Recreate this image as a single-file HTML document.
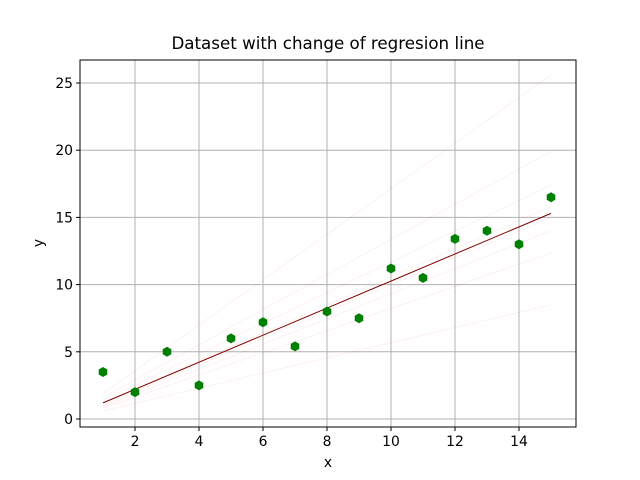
<!DOCTYPE html>
<html><head><meta charset="utf-8"><style>body{margin:0;background:#fff}svg{display:block}text{font-family:"DejaVu Sans","Liberation Sans",sans-serif;fill:#000}</style></head>
<body>
<svg id="c" width="640" height="480"></svg>
<script>
const xs=[1,2,3,4,5,6,7,8,9,10,11,12,13,14,15];
const ys=[3.5,2,5,2.5,6,7.2,5.4,8,7.5,11.2,10.5,13.4,14,13,16.5];
const fitStarts=[1.9,1.6,1.4,1.2,1.0,0.9,0.8,0.6];
const fitEnds=[25.6,19.9,17.4,15.8,15.0,14.0,12.35,8.5];
const finalLine=[1.2,15.3];
const xTicks=[2,4,6,8,10,12,14];
const yTicks=[0,5,10,15,20,25];
const L=80,R=576,T=60,B=427;
const X=v=>103+(v-1)*32, Y=v=>419-v*13.44;
const s=document.getElementById('c');const ns='http://www.w3.org/2000/svg';
function el(t,a,txt){const e=document.createElementNS(ns,t);for(const k in a)e.setAttribute(k,a[k]);if(txt!=null)e.textContent=txt;s.appendChild(e);return e;}
xTicks.forEach(v=>{let g=el('line',{x1:X(v),x2:X(v),y1:T,y2:B,stroke:'#b0b0b0','stroke-width':1});
let t=el('line',{x1:X(v),x2:X(v),y1:B,y2:B+4,stroke:'#000'});
let l=el('text',{x:X(v),y:B+19,'text-anchor':'middle','font-size':13.9},v);});
yTicks.forEach(v=>{let g=el('line',{x1:L,x2:R,y1:Y(v),y2:Y(v),stroke:'#b0b0b0','stroke-width':1});
let t=el('line',{x1:L-4,x2:L,y1:Y(v),y2:Y(v),stroke:'#000'});
let l=el('text',{x:L-7,y:Y(v)+5,'text-anchor':'end','font-size':13.9},v);});
fitStarts.forEach((a,i)=>{let f=el('line',{x1:X(1),y1:Y(a),x2:X(15),y2:Y(fitEnds[i]),stroke:'#ff0000','stroke-opacity':0.06,'stroke-width':1});});
let m=el('line',{x1:X(1),y1:Y(finalLine[0]),x2:X(15),y2:Y(finalLine[1]),stroke:'#800000','stroke-width':1});
xs.forEach((x,i)=>{const cx=X(x),cy=Y(ys[i]),r=5;let p=[];for(let k=0;k<6;k++){const a=Math.PI/2+k*Math.PI/3;p.push((cx+r*Math.cos(a)).toFixed(1)+','+(cy+r*Math.sin(a)).toFixed(1));}
let h=el('polygon',{points:p.join(' '),fill:'#008000'});});
let fr=el('rect',{x:L,y:T,width:R-L,height:B-T,fill:'none',stroke:'#000','stroke-width':1});
let ti=el('text',{x:328,y:49,'text-anchor':'middle','font-size':16.7},'Dataset with change of regresion line');
let xl=el('text',{x:328,y:467,'text-anchor':'middle','font-size':13.9},'x');
let yl=el('text',{x:43,y:243,'text-anchor':'middle','font-size':13.9,transform:'rotate(-90 43 243)'},'y');
</script>
</body></html>
